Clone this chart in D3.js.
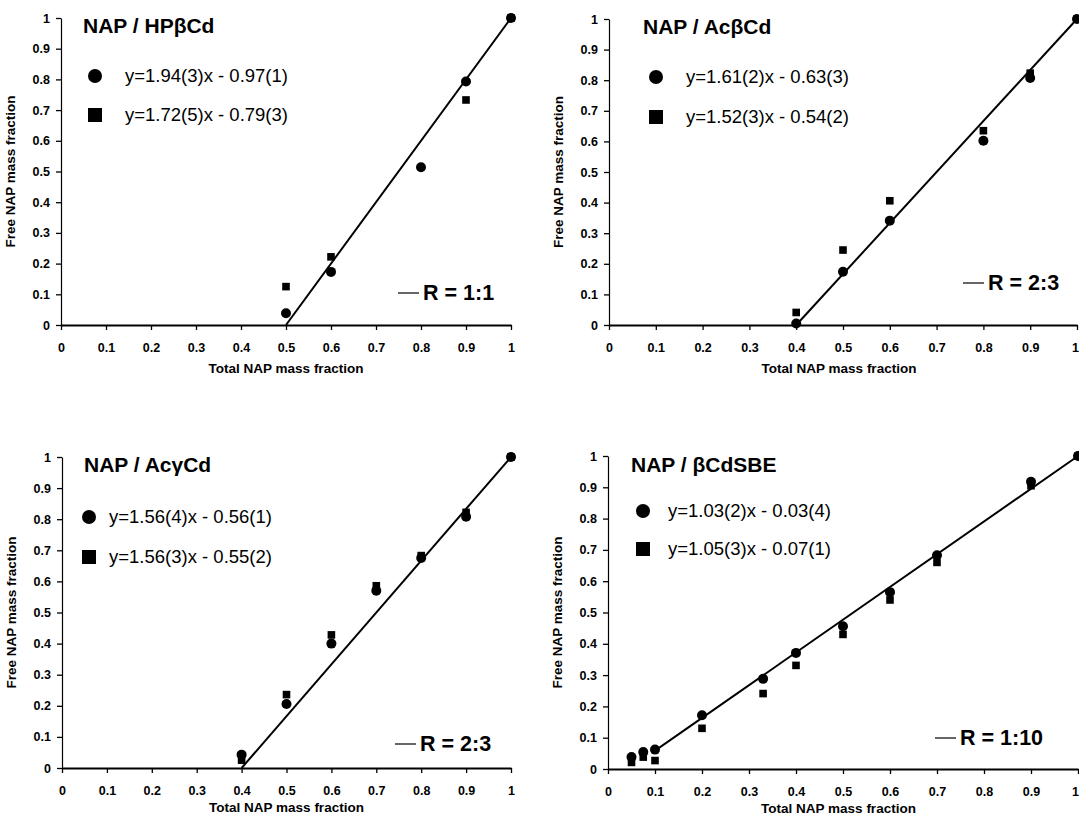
<!DOCTYPE html>
<html>
<head>
<meta charset="utf-8">
<script src="https://cdnjs.cloudflare.com/ajax/libs/d3/7.8.5/d3.min.js"></script>
<style>
  body { margin: 0; background: #fff; }
  text { font-family: "Liberation Sans", Arial, sans-serif; fill: #000; }
</style>
</head>
<body>
<div id="chart"></div>
<script>
// values
const ticks = [0, 0.1, 0.2, 0.3, 0.4, 0.5, 0.6, 0.7, 0.8, 0.9, 1]
const titles = ["NAP / HPβCd", "NAP / AcβCd", "NAP / AcγCd", "NAP / βCdSBE"]
const circleFits = ["y=1.94(3)x - 0.97(1)", "y=1.61(2)x - 0.63(3)", "y=1.56(4)x - 0.56(1)", "y=1.03(2)x - 0.03(4)"]
const squareFits = ["y=1.72(5)x - 0.79(3)", "y=1.52(3)x - 0.54(2)", "y=1.56(3)x - 0.55(2)", "y=1.05(3)x - 0.07(1)"]
const ratios = ["R = 1:1", "R = 2:3", "R = 2:3", "R = 1:10"]

const hpCircles = [[0.5, 0.038], [0.6, 0.173], [0.8, 0.514], [0.9, 0.793], [1, 1]]
const hpSquares = [[0.5, 0.125], [0.6, 0.222], [0.9, 0.733], [1, 1]]
const acbCircles = [[0.4, 0.005], [0.5, 0.174], [0.6, 0.341], [0.8, 0.602], [0.9, 0.807], [1, 1]]
const acbSquares = [[0.4, 0.041], [0.5, 0.245], [0.6, 0.406], [0.8, 0.635], [0.9, 0.823], [1, 1]]
const acgCircles = [[0.4, 0.043], [0.5, 0.206], [0.6, 0.40], [0.7, 0.57], [0.8, 0.675], [0.9, 0.808], [1, 1]]
const acgSquares = [[0.4, 0.025], [0.5, 0.236], [0.6, 0.428], [0.7, 0.586], [0.8, 0.683], [0.9, 0.822], [1, 1]]
const sbeCircles = [[0.05, 0.038], [0.075, 0.054], [0.1, 0.062], [0.2, 0.172], [0.33, 0.288], [0.4, 0.371],
  [0.5, 0.456], [0.6, 0.565], [0.7, 0.683], [0.9, 0.918], [1, 1]]
const sbeSquares = [[0.05, 0.021], [0.075, 0.038], [0.1, 0.027], [0.2, 0.13], [0.33, 0.241], [0.4, 0.331],
  [0.5, 0.43], [0.6, 0.54], [0.7, 0.66], [0.9, 0.905], [1, 1]]

// theoretical lines for each ratio
const hpLine = [[0.5, 0], [1, 1]]
const acbLine = [[0.4, 0], [1, 1]]
const acgLine = [[0.4, 0], [1, 1]]
const sbeLine = [[0.107, 0.066], [1, 1]]

const circleSets = [hpCircles, acbCircles, acgCircles, sbeCircles]
const squareSets = [hpSquares, acbSquares, acgSquares, sbeSquares]
const refLines = [hpLine, acbLine, acgLine, sbeLine]

// panel frames in pixels: x0..x1 horizontal, top..bottom vertical
const frames = [
  {x0: 61, x1: 511, top: 18, bottom: 325, title: [83, 33], leg: [95, 76, 115, 125], r: [398, 293]},
  {x0: 609, x1: 1077, top: 19, bottom: 325, title: [643, 34], leg: [656, 77, 117, 686], r: [963, 283]},
  {x0: 62, x1: 511, top: 457, bottom: 768, title: [84, 472], leg: [89, 517, 557, 109], r: [395, 744]},
  {x0: 608, x1: 1078, top: 456, bottom: 769, title: [631, 472], leg: [643, 511, 549, 668], r: [935, 738]}
]

const W = 1079
const svg = d3.select("#chart").append("svg")
  .attr("width", W)
  .attr("height", 817)

frames.forEach((f, i) => {
  const g = svg.append("g")

  const x = d3.scaleLinear().domain([0, 1]).range([f.x0, f.x1])
  const y = d3.scaleLinear().domain([0, 1]).range([f.bottom, f.top])

  const xAxis = g.append("g")
    .attr("transform", `translate(0,${f.bottom})`)
    .call(d3.axisBottom(x).tickValues(ticks).tickFormat(d3.format("")).tickSize(5).tickSizeOuter(0))
  xAxis.select(".domain").attr("stroke-width", 1.8)

  const yAxis = g.append("g")
    .attr("transform", `translate(${f.x0},0)`)
    .call(d3.axisLeft(y).tickValues(ticks).tickFormat(d3.format("")).tickSize(5).tickSizeOuter(0))
  yAxis.select(".domain").attr("stroke-width", 1.2)

  g.selectAll(".tick line").attr("stroke-width", 1.3)
  g.selectAll(".tick text")
    .attr("font-size", 12.5)
    .attr("font-weight", "bold")
    .attr("font-family", "Liberation Sans, Arial, sans-serif")
  xAxis.selectAll(".tick text").attr("y", 18.5)
  // keep the last label inside the page when the axis touches the right edge
  xAxis.selectAll(".tick text")
    .filter(d => x(d) + 4 > W)
    .attr("x", W - 4 - x(1))
  yAxis.selectAll(".tick text").attr("x", -11)

  g.append("text")
    .attr("x", (f.x0 + Math.min(f.x1, 1077)) / 2 - (i % 2 ? 4 : 0))
    .attr("y", f.bottom + (i < 2 ? 48 : 44))
    .attr("text-anchor", "middle")
    .attr("font-size", 13.5)
    .attr("font-weight", "bold")
    .text("Total NAP mass fraction")

  g.append("text")
    .attr("transform", `translate(${f.x0 - 46},${(f.top + f.bottom) / 2}) rotate(-90)`)
    .attr("text-anchor", "middle")
    .attr("font-size", 13.5)
    .attr("font-weight", "bold")
    .text("Free NAP mass fraction")

  // reference line
  g.append("path")
    .datum(refLines[i])
    .attr("d", d3.line().x(d => x(d[0])).y(d => y(d[1])))
    .attr("fill", "none")
    .attr("stroke", "#000")
    .attr("stroke-width", 2)

  g.append("g").selectAll("rect")
    .data(squareSets[i])
    .join("rect")
      .attr("x", d => x(d[0]) - 3.8)
      .attr("y", d => y(d[1]) - 3.8)
      .attr("width", 7.6)
      .attr("height", 7.6)
      .attr("fill", "#000")

  g.append("g").selectAll("circle")
    .data(circleSets[i])
    .join("circle")
      .attr("cx", d => x(d[0]))
      .attr("cy", d => y(d[1]))
      .attr("r", 5)
      .attr("fill", "#000")

  // title and legend
  g.append("text")
    .attr("x", f.title[0])
    .attr("y", f.title[1])
    .attr("font-size", 21)
    .attr("font-weight", "bold")
    .text(titles[i])

  const [lx, cy, sy, tx] = f.leg
  g.append("circle").attr("cx", lx).attr("cy", cy).attr("r", 7).attr("fill", "#000")
  g.append("rect").attr("x", lx - 7).attr("y", sy - 7).attr("width", 14).attr("height", 14).attr("fill", "#000")
  g.append("text").attr("x", tx).attr("y", cy + 6).attr("font-size", 18.5).text(circleFits[i])
  g.append("text").attr("x", tx).attr("y", sy + 6).attr("font-size", 18.5).text(squareFits[i])

  g.append("line")
    .attr("x1", f.r[0]).attr("x2", f.r[0] + 21)
    .attr("y1", f.r[1]).attr("y2", f.r[1])
    .attr("stroke", "#000").attr("stroke-width", 1.2)
  g.append("text")
    .attr("x", f.r[0] + 25)
    .attr("y", f.r[1] + 7)
    .attr("font-size", 21.5)
    .attr("font-weight", "bold")
    .text(ratios[i])
})
</script>
</body>
</html>
